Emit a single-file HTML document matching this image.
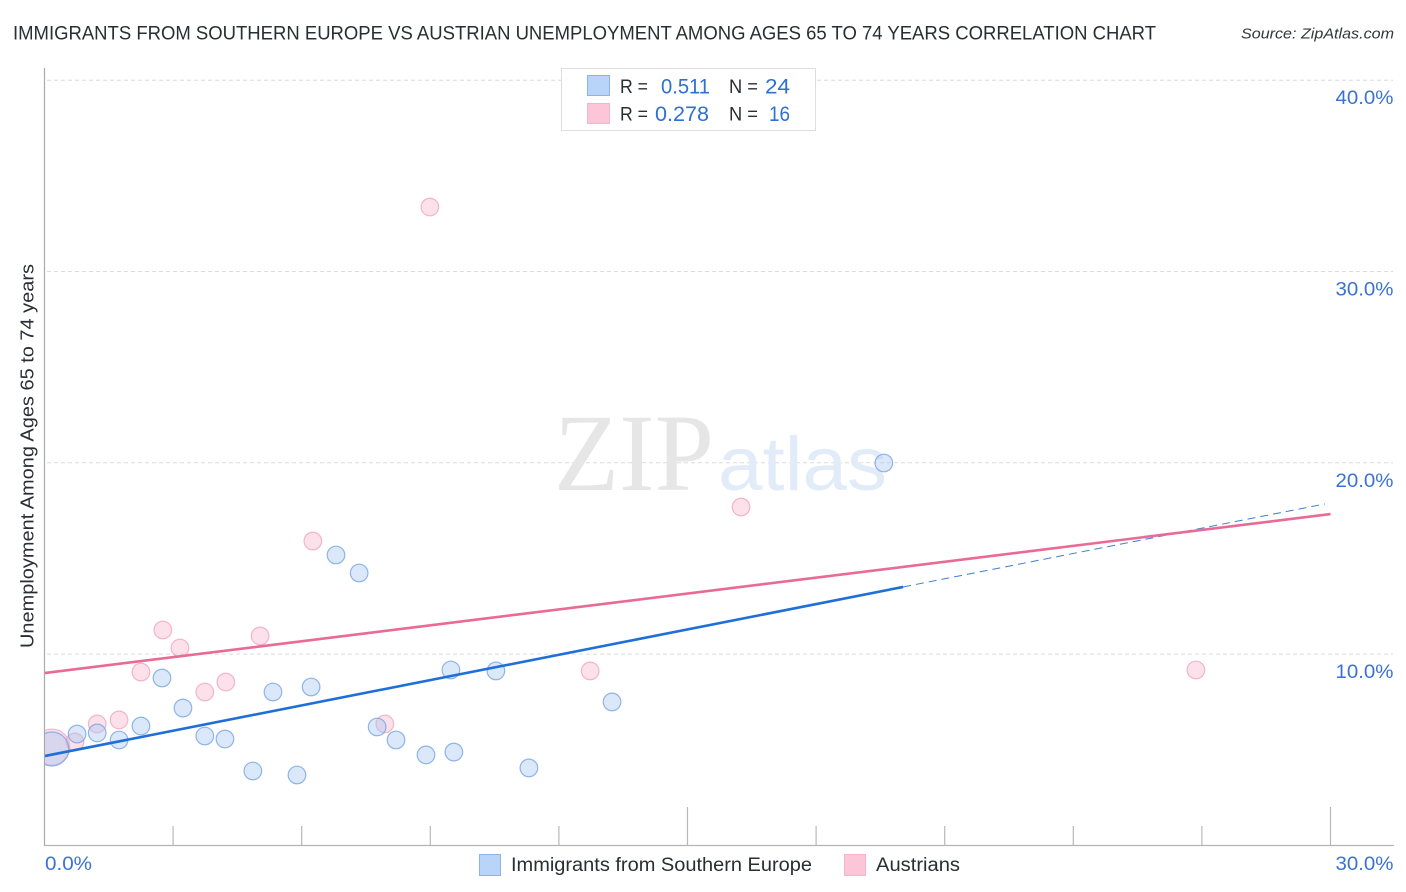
<!DOCTYPE html>
<html lang="en">
<head>
<meta charset="utf-8">
<title>Immigrants from Southern Europe vs Austrian Unemployment Correlation Chart</title>
<style>
html,body{margin:0;padding:0;background:#fff;width:1406px;height:892px;overflow:hidden}
svg{display:block;font-family:"Liberation Sans",sans-serif}
</style>
</head>
<body>
<svg id="chart" width="1406" height="892" viewBox="0 0 1406 892" xmlns="http://www.w3.org/2000/svg">
  <text x="13" y="39.5" font-size="19.5" fill="#2a2d33" textLength="1143" lengthAdjust="spacingAndGlyphs">IMMIGRANTS FROM SOUTHERN EUROPE VS AUSTRIAN UNEMPLOYMENT AMONG AGES 65 TO 74 YEARS CORRELATION CHART</text>
  <text x="1241" y="38.5" font-size="15" font-style="italic" fill="#33363c" textLength="153" lengthAdjust="spacingAndGlyphs">Source: ZipAtlas.com</text>

  <g id="grid"></g>

  <g>
    <text x="554" y="490" font-family="'Liberation Serif',serif" font-size="110" fill="#e6e6e6" textLength="160" lengthAdjust="spacingAndGlyphs">ZIP</text>
    <text x="718" y="490" font-size="76" fill="#e2ecf9" textLength="169" lengthAdjust="spacingAndGlyphs">atlas</text>
  </g>

  <g id="points"></g>
  <rect x="0" y="60" width="44.5" height="785" fill="#fff"/>
  <g id="trends"></g>
  <g id="axes"></g>
  <g id="tick-labels"></g>

  <text transform="translate(33.5,456) rotate(-90)" text-anchor="middle" font-size="18.5" fill="#2a2d33" textLength="384" lengthAdjust="spacingAndGlyphs">Unemployment Among Ages 65 to 74 years</text>

  <g>
    <rect x="561.5" y="68.5" width="254" height="62" fill="#fff" fill-opacity="0.9" stroke="#dedede"/>
    <rect x="587.5" y="75.5" width="22" height="20" fill="#b8d4f8" stroke="#8fb4e4"/>
    <rect x="587.5" y="103.5" width="22" height="20" fill="#fcc5d8" stroke="#f4b4cb"/>
    <text x="620" y="93" font-size="19" fill="#2a2d33" textLength="28" lengthAdjust="spacingAndGlyphs">R =</text>
    <text x="661" y="93.5" font-size="21" fill="#3070d0" textLength="49" lengthAdjust="spacingAndGlyphs">0.511</text>
    <text x="729" y="93" font-size="19" fill="#2a2d33" textLength="29" lengthAdjust="spacingAndGlyphs">N =</text>
    <text x="765" y="93.5" font-size="21" fill="#3070d0" textLength="25" lengthAdjust="spacingAndGlyphs">24</text>
    <text x="620" y="120.5" font-size="19" fill="#2a2d33" textLength="28" lengthAdjust="spacingAndGlyphs">R =</text>
    <text x="655" y="121" font-size="21" fill="#3070d0" textLength="54" lengthAdjust="spacingAndGlyphs">0.278</text>
    <text x="729" y="120.5" font-size="19" fill="#2a2d33" textLength="29" lengthAdjust="spacingAndGlyphs">N =</text>
    <text x="769" y="121" font-size="21" fill="#3070d0" textLength="21" lengthAdjust="spacingAndGlyphs">16</text>
  </g>

  <g>
    <rect x="479.5" y="854.5" width="21" height="21" fill="#b8d4f8" stroke="#8fb4e4"/>
    <text x="511" y="871" font-size="19" fill="#2a2d33" textLength="301" lengthAdjust="spacingAndGlyphs">Immigrants from Southern Europe</text>
    <rect x="844.5" y="854.5" width="21" height="21" fill="#fcc5d8" stroke="#f4b4cb"/>
    <text x="876" y="871" font-size="19" fill="#2a2d33" textLength="84" lengthAdjust="spacingAndGlyphs">Austrians</text>
  </g>
</svg>
<script>
const blueX = [0.17,0.76,1.23,1.74,2.25,2.74,3.23,3.74,4.21,4.86,5.33,5.89,6.22,6.80,7.34,7.76,8.20,8.90,9.48,9.55,10.53,11.30,13.24,19.58];
const blueY = [5.04,5.82,5.88,5.51,6.24,8.75,7.18,5.72,5.56,3.89,8.02,3.68,8.28,15.18,14.24,6.19,5.51,4.73,9.17,4.88,9.12,4.05,7.50,19.99];
const pinkX = [0.17,0.71,1.23,1.74,2.25,2.76,3.16,3.74,4.23,5.03,6.26,7.94,8.99,12.73,16.25,26.86];
const pinkY = [5.14,5.41,6.35,6.56,9.06,11.26,10.32,8.02,8.54,10.95,15.91,6.35,33.37,9.12,17.69,9.17];
const blueTrendX = [0,20.03];
const blueTrendY = [4.67,13.51];
const blueDashX = [20.03,29.87];
const blueDashY = [13.51,17.85];
const pinkTrendX = [0,30];
const pinkTrendY = [9.01,17.32];
const yTicks = [10,20,30,40];
const yTickLabels = ["10.0%","20.0%","30.0%","40.0%"];
const xTicks = [3,6,9,12,15,18,21,24,27,30];
const xMajorTicks = [15,30];
const xEndTicks = [0,30];
const xEndLabels = ["0.0%","30.0%"];

const NS = "http://www.w3.org/2000/svg";
const xScale = v => 44.5 + v * (1286 / 30);
const yScale = v => 845.4 - v * 19.13;
function make(tag, parent, attrs) {
  const el = document.createElementNS(NS, tag);
  for (const k in attrs) el.setAttribute(k, attrs[k]);
  parent.appendChild(el);
  return el;
}
const grid = document.getElementById("grid");
const axes = document.getElementById("axes");
const pts = document.getElementById("points");
const trends = document.getElementById("trends");
const labels = document.getElementById("tick-labels");

yTicks.forEach((t, i) => {
  const ln = make("line", grid, {x1:47, x2:1393, y1:yScale(t), y2:yScale(t), stroke:"#dcdcdc", "stroke-width":1, "stroke-dasharray":"4 3"});
  
  
  const tx = make("text", labels, {x:1393.5, y:yScale(t)+24, "text-anchor":"end", "font-size":19.5, fill:"#3a72d4", textLength:58, lengthAdjust:"spacingAndGlyphs"});
  tx.textContent = yTickLabels[i];
  
  
});

const yAxis = make("line", axes, {x1:44.5, x2:44.5, y1:68, y2:846, stroke:"#aaaaaa", "stroke-width":1.2});


const xAxis = make("line", axes, {x1:44, x2:1394, y1:845.5, y2:845.5, stroke:"#b4b4b4", "stroke-width":1.2});


xTicks.forEach(t => {
  const top = xMajorTicks.includes(t) ? 807 : 826;
  const tk = make("line", axes, {x1:xScale(t), x2:xScale(t), y1:top, y2:845, stroke:"#b8b8b8", "stroke-width":1.2});
  
  
});
xEndTicks.forEach((t, i) => {
  const anchor = i === 0 ? "start" : "end";
  const px = i === 0 ? 45 : 1393.5;
  const tx = make("text", labels, {x:px, y:870, "text-anchor":anchor, "font-size":19.5, fill:"#3a72d4", textLength:i === 0 ? 47 : 58, lengthAdjust:"spacingAndGlyphs"});
  tx.textContent = xEndLabels[i];
  
  
});

pinkX.forEach((v, i) => {
  const c = make("circle", pts, {cx:xScale(v), cy:yScale(pinkY[i]), r:i === 0 ? 18 : 8.8, fill:"#f9b8cf", "fill-opacity":0.42, stroke:"#f09ab8", "stroke-opacity":0.7, "stroke-width":1.2});
  
  
});
blueX.forEach((v, i) => {
  const c = make("circle", pts, {cx:xScale(v), cy:yScale(blueY[i]), r:i === 0 ? 17 : 8.8, fill:"#a8c8f4", "fill-opacity":0.42, stroke:"#6f9fe0", "stroke-opacity":0.75, "stroke-width":1.2});
  
  
});

const dash = make("line", trends, {x1:xScale(blueDashX[0]), y1:yScale(blueDashY[0]), x2:xScale(blueDashX[1]), y2:yScale(blueDashY[1]), stroke:"#3f7fd0", "stroke-width":1, "stroke-dasharray":"8 5"});


const blueLine = make("line", trends, {x1:xScale(blueTrendX[0]), y1:yScale(blueTrendY[0]), x2:xScale(blueTrendX[1]), y2:yScale(blueTrendY[1]), stroke:"#1f6fd8", "stroke-width":2.6});


const pinkLine = make("line", trends, {x1:xScale(pinkTrendX[0]), y1:yScale(pinkTrendY[0]), x2:xScale(pinkTrendX[1]), y2:yScale(pinkTrendY[1]), stroke:"#e96a96", "stroke-width":2.6});


</script>
</body>
</html>
